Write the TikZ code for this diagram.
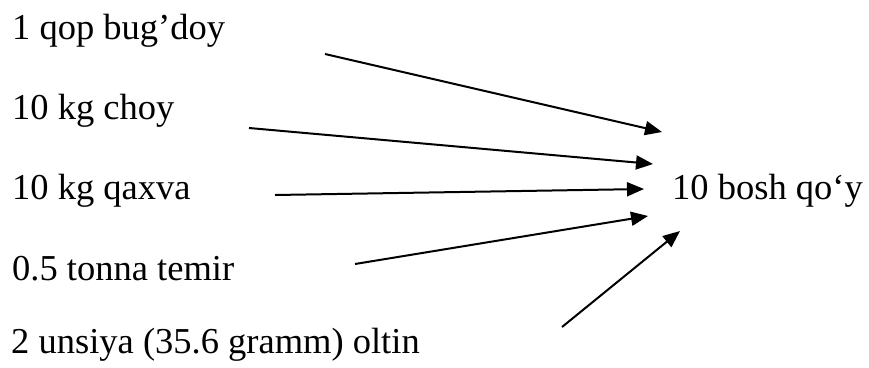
\documentclass[tikz,border=0pt]{standalone}
\usepackage{fontspec}
\setmainfont{Liberation Serif}
\usetikzlibrary{arrows.meta}

\tikzset{
  item/.style={anchor=base west, inner sep=0pt, font=\fontsize{36.5}{40}\selectfont},
  feed/.style={line width=2pt, -{Triangle[length=17pt,width=14pt]}}
}

\begin{document}
\begin{tikzpicture}[x=1pt, y=-1pt]
\useasboundingbox (0,0) rectangle (869,367);
\node[item] (bugdoy) at (12,39){1 qop bug’doy};
\node[item] (choy) at (12,119){10 kg choy};
\node[item] (qaxva) at (12,199){10 kg qaxva};
\node[item] (temir) at (12,280){0.5 tonna temir};
\node[item] (oltin) at (11,353){2 unsiya (35.6 gramm) oltin};
\node[item] (qoy) at (672,199){10 bosh qo‘y};

\coordinate (s1) at (325,54);
\coordinate (s2) at (249,128);
\coordinate (s3) at (275,195);
\coordinate (s4) at (355,264);
\coordinate (s5) at (562,327);
\coordinate (t1) at (662,132);
\coordinate (t2) at (653,164);
\coordinate (t3) at (644,189);
\coordinate (t4) at (648,216);
\coordinate (t5) at (680,231);

\draw[feed](s1)--(t1);
\draw[feed](s2)--(t2);
\draw[feed](s3)--(t3);
\draw[feed](s4)--(t4);
\draw[feed](s5)--(t5);
\end{tikzpicture}
\end{document}
